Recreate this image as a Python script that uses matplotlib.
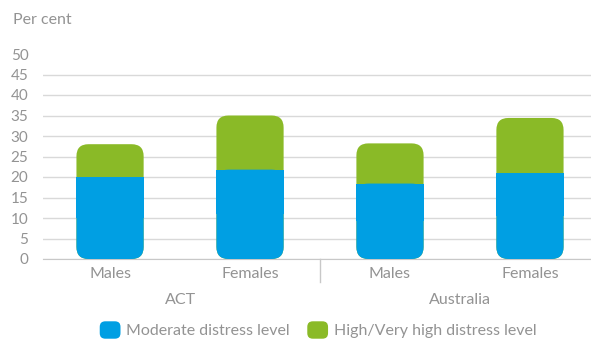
import matplotlib
matplotlib.use("Agg")
import matplotlib.pyplot as plt
import numpy as np
from matplotlib.patches import FancyBboxPatch, Rectangle
from matplotlib.legend_handler import HandlerPatch

# data
groups = ["ACT", "Australia"]
sexes = ["Males", "Females", "Males", "Females"]
moderate = [20.0, 21.8, 18.4, 20.9]
high = [8.0, 13.2, 9.8, 13.5]
yticks = list(range(0, 51, 5))

BLUE = "#009fe3"
GREEN = "#8aba27"
TXT = "#939393"
plt.rcParams["font.family"] = ["Lato", "DejaVu Sans"]

fig = plt.figure(figsize=(5.91, 3.40), dpi=100)
ax = fig.add_axes([43 / 591, 1 - 259 / 340, 548 / 591, 205 / 340])
x = np.arange(len(sexes))
ax.set_xlim(-0.479, 3.436)
ax.set_ylim(0, 50)

# pixels per data unit, to keep corner rounding circular
p0 = ax.transData.transform((0, 0))
p1 = ax.transData.transform((1, 1))
px_x, px_y = p1[0] - p0[0], p1[1] - p0[1]
r_px = 12
rx = r_px / px_x
aspect = px_x / px_y

total = [m + h for m, h in zip(moderate, high)]
green_bars = ax.bar(x, total, width=0.48, color=GREEN)
blue_bars = ax.bar(x, moderate, width=0.48, color=BLUE)


def rounded(bars, color, square_top=False):
    for b in bars:
        bx, by, bw, bh = b.get_x(), b.get_y(), b.get_width(), b.get_height()
        b.set_visible(False)
        ax.add_patch(FancyBboxPatch((bx, by), bw, bh,
                                    boxstyle=f"round,pad=0,rounding_size={rx}",
                                    mutation_aspect=aspect, fc=color, ec="none", zorder=3))
        if square_top:
            ax.add_patch(Rectangle((bx, by + bh / 2), bw, bh / 2, fc=color, ec="none", zorder=3))


rounded(green_bars, GREEN)
rounded(blue_bars, BLUE, square_top=True)

ax.set_yticks(yticks)
ax.grid(axis="y", color="#d9d9d9", lw=1)
ax.yaxis.get_gridlines()[-1].set_visible(False)
ax.set_axisbelow(True)
for s in ["top", "right", "left"]:
    ax.spines[s].set_visible(False)
ax.spines["bottom"].set_color("#c8c8c8")
ax.tick_params(axis="y", length=0, pad=10.5, labelsize=11, labelcolor=TXT)
ax.set_xticks(x, sexes)
ax.tick_params(axis="x", length=0, pad=6, labelsize=11.5, labelcolor=TXT)

# group divider and group labels
ax.plot([1.5, 1.5], [0, -23 / 205], transform=ax.get_xaxis_transform(),
        color="#c8c8c8", lw=1, clip_on=False)
for i, g in enumerate(groups):
    ax.annotate(g, xy=(2 * i + 0.5, 0), xycoords=("data", "axes fraction"),
                xytext=(0, -41 * 0.72), textcoords="offset points",
                ha="center", va="center", fontsize=11.5, color=TXT)

fig.text(13 / 591, 1 - 20 / 340, "Per cent", ha="left", va="center", fontsize=11.5, color=TXT)


def legend_box(legend, orig_handle, xdescent, ydescent, width, height, fontsize):
    return FancyBboxPatch((-xdescent, -ydescent), width, height,
                          boxstyle="round,pad=0,rounding_size=4")


handles = [Rectangle((0, 0), 1, 1, fc=BLUE), Rectangle((0, 0), 1, 1, fc=GREEN)]
fig.legend(handles, ["Moderate distress level", "High/Very high distress level"],
           loc="center", bbox_to_anchor=(318 / 591, 1 - 330 / 340), ncol=2,
           frameon=False, fontsize=11.5, labelcolor=TXT,
           handlelength=1.3, handleheight=1.3, handletextpad=0.35, columnspacing=1.1,
           handler_map={Rectangle: HandlerPatch(patch_func=legend_box)})

fig.savefig("out.png", dpi=100)
